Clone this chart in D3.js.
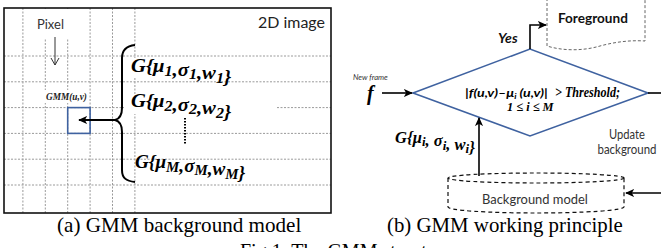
<!DOCTYPE html>
<html>
<head>
<meta charset="utf-8">
<script src="https://cdn.jsdelivr.net/npm/d3@7"></script>
<style>
  body { margin: 0; background: #fff; }
  svg { display: block; }
</style>
</head>
<body>
<svg id="fig" width="661" height="248"></svg>
<script>
// ---- data / labels ----
var gridCols = d3.range(6);          // vertical dashed lines in the 2D image
var gridRows = d3.range(6);          // horizontal dashed lines
var pixelCell = {col: 3, row: 2};    // the highlighted pixel
var components = ['1', '2', 'M'];    // gaussian component subscripts
var captions = ['(a) GMM background model', '(b) GMM working principle'];
var figTitle = 'Fig.1. The GMM structure';
var updateLines = ['Update', 'background'];

var svg = d3.select('#fig');
var MATH = '"Liberation Serif", "DejaVu Serif", serif';
var SANS = 'Lato, "Open Sans", sans-serif';
var BLUE = '#3f62a0';

// scales for the grid
var gx = d3.scaleLinear().domain([-1, 5]).range([0.5, 134.9]);
var gy = d3.scaleLinear().domain([0, 5]).range([56, 185]);

// squeeze/stretch a text horizontally to a given width
function fit(sel, w) {
  var x = +sel.attr('x') || 0;
  var bw = sel.node().getBBox().width;
  if (bw > 0) sel.attr('transform', 'translate(' + x + ',0) scale(' + (w / bw) + ',1) translate(' + (-x) + ',0)');
  return sel;
}

// arrowheads
var defs = svg.append('defs');
defs.append('marker')
  .attr('id', 'head')
  .attr('markerUnits', 'userSpaceOnUse')
  .attr('viewBox', '0 -5 10 10')
  .attr('refX', 9).attr('refY', 0)
  .attr('markerWidth', 9).attr('markerHeight', 9)
  .attr('orient', 'auto')
  .append('path')
  .attr('d', 'M0,-4.5L10,0L0,4.5L2.5,0Z')
  .attr('fill', '#000');

///*********** (a) 2D image ************/
var left = svg.append('g');

left.selectAll('.vline')
  .data(gridCols)
  .join('line')
  .attr('class', 'vline')
  .attr('x1', function(d) { return gx(d); })
  .attr('x2', function(d) { return gx(d); })
  .attr('y1', 8).attr('y2', 213)
  .attr('stroke', '#9a9a9a').attr('stroke-width', 1)
  .attr('stroke-dasharray', '2,1.5');

left.selectAll('.hline')
  .data(gridRows)
  .join('line')
  .attr('class', 'hline')
  .attr('x1', 4).attr('x2', 331)
  .attr('y1', function(d) { return gy(d); })
  .attr('y2', function(d) { return gy(d); })
  .attr('stroke', '#9a9a9a').attr('stroke-width', 1)
  .attr('stroke-dasharray', '2,1.5');

// white patches behind labels
[[39, 9, 32, 29], [44, 90, 45, 13], [127, 58, 110, 20], [124, 96, 153, 18]].forEach(function(r) {
  left.append('rect').attr('x', r[0]).attr('y', r[1]).attr('width', r[2]).attr('height', r[3]).attr('fill', '#fff');
});

left.append('rect')
  .attr('x', 4).attr('y', 8).attr('width', 327).attr('height', 205)
  .attr('fill', 'none').attr('stroke', '#111').attr('stroke-width', 1.6);

fit(left.append('text').attr('x', 37).attr('y', 29)
  .style('font-family', SANS).style('font-size', '14px').attr('fill', '#333')
  .text('Pixel'), 27);

fit(left.append('text').attr('x', 258).attr('y', 28)
  .style('font-family', SANS).style('font-size', '16px').attr('fill', '#222')
  .text('2D image'), 67);

// pixel arrow
left.append('line').attr('x1', 55).attr('x2', 55).attr('y1', 37).attr('y2', 65)
  .attr('stroke', '#333').attr('stroke-width', 1);
left.append('path').attr('d', 'M51,58L55,65L59,58')
  .attr('fill', 'none').attr('stroke', '#333').attr('stroke-width', 1);

var gmm = left.append('text').attr('x', 46).attr('y', 100)
  .style('font-family', MATH).style('font-size', '10px')
  .style('font-style', 'italic').style('font-weight', 'bold').attr('fill', '#222')
  .text('GMM(u,v)');
fit(gmm, 41);

// highlighted pixel
left.append('rect')
  .attr('x', gx(pixelCell.col - 1)).attr('y', gy(pixelCell.row))
  .attr('width', gx(pixelCell.col) - gx(pixelCell.col - 1))
  .attr('height', gy(pixelCell.row + 1) - gy(pixelCell.row))
  .attr('fill', 'none').attr('stroke', BLUE).attr('stroke-width', 1.6);

// brace
left.append('path')
  .attr('d', 'M135,45C126,46 122,50 122,58L122,108C122,116 119,119 115,120C119,121 122,124 122,132L122,170C122,178 126,181 135,182')
  .attr('fill', 'none').attr('stroke', '#000').attr('stroke-width', 2);

left.append('line').attr('x1', 115).attr('x2', 79).attr('y1', 120).attr('y2', 120)
  .attr('stroke', '#000').attr('stroke-width', 2).attr('marker-end', 'url(#head)');

// components
var compPos = [{x: 131, y: 72, w: 101}, {x: 131, y: 107, w: 101}, {x: 135, y: 168, w: 111}];

function gaussText(g, x, y, size, sub, w, gap) {
  var t = g.append('text').attr('x', x).attr('y', y)
    .style('font-family', MATH).style('font-size', size + 'px')
    .style('font-style', 'italic').style('font-weight', 'bold').attr('fill', '#000');
  var parts = ['G{\u03bc', ',' + (gap || '') + '\u03c3', ',' + (gap || '') + 'w'];
  parts.forEach(function(p) {
    t.append('tspan').text(p);
    t.append('tspan').attr('dy', size * 0.2).style('font-size', (size * 0.78) + 'px').text(sub);
    t.append('tspan').attr('dy', -size * 0.2).text('');
  });
  t.append('tspan').text('}');
  fit(t, w);
  return t;
}

components.forEach(function(c, i) {
  gaussText(left, compPos[i].x, compPos[i].y, 18, c, compPos[i].w, '');
});

left.append('line').attr('x1', 185).attr('x2', 185).attr('y1', 118).attr('y2', 145)
  .attr('stroke', '#000').attr('stroke-width', 2).attr('stroke-dasharray', '1.5,1.5');

///*********** (b) working principle ************/
var right = svg.append('g');

var diamond = [[413, 93], [530, 49], [648, 93], [530, 136]];
right.append('path')
  .attr('d', d3.line()(diamond) + 'Z')
  .attr('fill', 'none').attr('stroke', BLUE).attr('stroke-width', 1.6);

// foreground document shape
right.append('path')
  .attr('d', 'M547,-2L547,46C563,51 583,51 600,46C615,42 630,40 645,41L645,-2')
  .attr('fill', 'none').attr('stroke', '#666').attr('stroke-width', 1).attr('stroke-dasharray', '3,2');

fit(right.append('text').attr('x', 558).attr('y', 23)
  .style('font-family', SANS).style('font-size', '14px').style('font-weight', 'bold').attr('fill', '#111')
  .text('Foreground'), 70);

fit(right.append('text').attr('x', 498).attr('y', 43)
  .style('font-family', SANS).style('font-size', '14px').style('font-weight', 'bold').style('font-style', 'italic')
  .attr('fill', '#111').text('Yes'), 20);

right.append('path').attr('d', 'M530,49L530,25L546,25')
  .attr('fill', 'none').attr('stroke', '#000').attr('stroke-width', 1.6).attr('marker-end', 'url(#head)');

// new frame input
fit(right.append('text').attr('x', 353).attr('y', 80)
  .style('font-family', SANS).style('font-size', '8px').style('font-style', 'italic').attr('fill', '#333')
  .text('New frame'), 35);

right.append('text').attr('x', 367).attr('y', 100)
  .style('font-family', MATH).style('font-size', '20px').style('font-style', 'italic').style('font-weight', 'bold')
  .text('f');

right.append('line').attr('x1', 382).attr('x2', 412).attr('y1', 93).attr('y2', 93)
  .attr('stroke', '#000').attr('stroke-width', 1.6).attr('marker-end', 'url(#head)');

// condition text
var c1 = right.append('text').attr('x', 465).attr('y', 97)
  .style('font-family', SANS).style('font-size', '12px').style('font-style', 'italic').style('font-weight', 'bold');
c1.append('tspan').text('|f(u,v)\u2013\u03bc');
c1.append('tspan').attr('dy', 2).style('font-size', '8px').text('i');
c1.append('tspan').attr('dy', -2).text(' (u,v)|');
fit(c1, 83);

fit(right.append('text').attr('x', 555).attr('y', 97)
  .style('font-family', MATH).style('font-size', '14px').style('font-style', 'italic').style('font-weight', 'bold')
  .text('> Threshold;'), 65);

fit(right.append('text').attr('x', 507).attr('y', 111)
  .style('font-family', MATH).style('font-size', '13px').style('font-style', 'italic').style('font-weight', 'bold')
  .text('1 \u2264 i \u2264 M'), 47);

// model parameters into the test
gaussText(right, 395, 143, 17, 'i', 80, ' ');

right.append('line').attr('x1', 479).attr('x2', 479).attr('y1', 176).attr('y2', 118)
  .attr('stroke', '#000').attr('stroke-width', 1.6).attr('marker-end', 'url(#head)');

// update loop on the right
right.append('line').attr('x1', 648).attr('x2', 662).attr('y1', 93).attr('y2', 93)
  .attr('stroke', '#000').attr('stroke-width', 1.6);
right.append('line').attr('x1', 662).attr('x2', 626).attr('y1', 193).attr('y2', 193)
  .attr('stroke', '#000').attr('stroke-width', 1.6).attr('marker-end', 'url(#head)');

var updW = [36, 59];
right.selectAll('.upd')
  .data(updateLines)
  .join('text')
  .attr('class', 'upd')
  .attr('x', function(d, i) { return 627 - updW[i] / 2; })
  .attr('y', function(d, i) { return 139 + i * 15; })
  .style('font-family', SANS).style('font-size', '13px').attr('fill', '#333')
  .text(function(d) { return d; })
  .each(function(d, i) { fit(d3.select(this), updW[i]); });

// background model cylinder
var cyl = right.append('g')
  .attr('fill', 'none').attr('stroke', '#111').attr('stroke-width', 1.2).attr('stroke-dasharray', '4,3');
cyl.append('ellipse').attr('cx', 536).attr('cy', 178).attr('rx', 88).attr('ry', 5);
cyl.append('path').attr('d', 'M448,178L448,207A88,6 0 0 0 624,207L624,178');

fit(right.append('text').attr('x', 482).attr('y', 204)
  .style('font-family', SANS).style('font-size', '14px').attr('fill', '#333')
  .text('Background model'), 106);

///*********** captions ************/
var capPos = [{x: 57, w: 245}, {x: 387, w: 236}];
svg.selectAll('.cap')
  .data(captions)
  .join('text')
  .attr('class', 'cap')
  .attr('x', function(d, i) { return capPos[i].x; })
  .attr('y', 232)
  .style('font-family', '"Liberation Serif", "Times New Roman", serif').style('font-size', '20px')
  .text(function(d) { return d; })
  .each(function(d, i) { fit(d3.select(this), capPos[i].w); });

svg.append('text').attr('x', 240).attr('y', 258)
  .style('font-family', '"Liberation Serif", "Times New Roman", serif').style('font-size', '20px')
  .text(figTitle);
</script>
</body>
</html>
